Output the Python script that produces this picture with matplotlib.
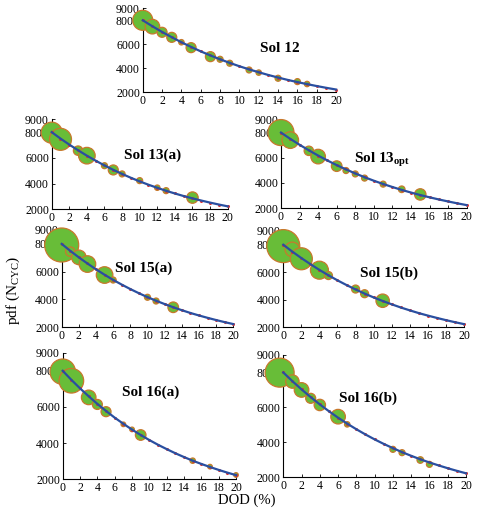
import matplotlib
matplotlib.use("Agg")
import matplotlib.pyplot as plt
import numpy as np

plt.rcParams['font.family'] = ['Liberation Serif', 'DejaVu Serif']
plt.rcParams['mathtext.fontset'] = 'custom'
plt.rcParams['mathtext.rm'] = 'Liberation Serif'
plt.rcParams['mathtext.bf'] = 'Liberation Serif:bold'

# fitted cycle-life curve, read at integer DOD
dod = list(range(21))
n_cyc = [8000, 7500, 7030, 6590, 6170, 5780, 5410, 5070, 4750, 4450, 4170,
         3910, 3670, 3440, 3230, 3030, 2850, 2680, 2520, 2370, 2230]

# bubbles: DOD, N_cyc, bubble radius (px)
sol12_x = [0, 1, 2, 3, 4, 5, 7, 8, 9, 11, 12, 14, 16, 17]
sol12_y = [8000, 7470, 7000, 6580, 6170, 5720, 4970, 4750, 4420, 3860, 3640, 3170, 2890, 2690]
sol12_r = [10, 7.3, 5, 5, 2.7, 5, 5, 3, 3, 3, 2.7, 3, 3, 2.7]

sol13a_x = [0, 1, 3, 4, 6, 7, 8, 10, 12, 13, 16]
sol13a_y = [7960, 7440, 6560, 6170, 5390, 5060, 4750, 4230, 3680, 3450, 2910]
sol13a_r = [10.5, 11, 4.7, 8.3, 3, 5, 3, 3, 2.7, 3, 5.7]

sol13o_x = [0, 1, 3, 4, 6, 7, 8, 9, 11, 13, 15]
sol13o_y = [8000, 7400, 6550, 6090, 5330, 4980, 4710, 4380, 3900, 3490, 3080]
sol13o_r = [13, 8.3, 4.7, 7.3, 5.3, 3, 3, 3, 3, 3.3, 5.7]

sol15a_x = [0, 1, 2, 3, 5, 6, 10, 11, 13]
sol15a_y = [7920, 7440, 7030, 6550, 5760, 5400, 4160, 3890, 3440]
sol15a_r = [17, 4.7, 7.3, 8.3, 8.3, 3, 3, 3, 5.3]

sol15b_x = [0, 1, 2, 4, 5, 8, 9, 11]
sol15b_y = [7900, 7660, 6980, 6150, 5760, 4780, 4440, 3930]
sol15b_r = [16.5, 7.3, 11, 9, 4, 4, 4, 6.7]

sol16a_x = [0, 1, 3, 4, 5, 7, 8, 9, 15, 17, 20]
sol16a_y = [7950, 7450, 6530, 6140, 5740, 5040, 4760, 4450, 3030, 2700, 2240]
sol16a_r = [12.7, 12.3, 7.3, 5, 5, 2.3, 2.3, 5.3, 2.7, 2.3, 2.3]

sol16b_x = [-0.4, 1, 2, 3, 4, 6, 7, 12, 13, 15, 16]
sol16b_y = [7990, 7480, 7000, 6520, 6140, 5470, 5030, 3600, 3410, 2990, 2740]
sol16b_r = [14.5, 6.7, 7.3, 5, 5.7, 7.3, 2.7, 3, 3, 3.3, 3]

panels = [
    ([0.298, 0.8208, 0.4036, 0.1631], sol12_x, sol12_y, sol12_r, 'Sol 12', 12.1, 5690),
    ([0.1079, 0.5936, 0.3674, 0.1748], sol13a_x, sol13a_y, sol13a_r, 'Sol 13(a)', 8.2, 6220),
    ([0.5866, 0.5961, 0.3877, 0.1709], sol13o_x, sol13o_y, sol13o_r,
     r'Sol 13$_{\mathbf{opt}}$', 7.9, 5820),
    ([0.1288, 0.3645, 0.3582, 0.1889], sol15a_x, sol15a_y, sol15a_r, 'Sol 15(a)', 6.2, 6245),
    ([0.5914, 0.3645, 0.3772, 0.1870], sol15b_x, sol15b_y, sol15b_r, 'Sol 15(b)', 8.5, 5950),
    ([0.1309, 0.0693, 0.3618, 0.2458], sol16a_x, sol16a_y, sol16a_r, 'Sol 16(a)', 6.8, 6840),
    ([0.5914, 0.0732, 0.3814, 0.2375], sol16b_x, sol16b_y, sol16b_r, 'Sol 16(b)', 6.1, 6525),
]

fig = plt.figure(figsize=(4.79, 5.15), dpi=100)

for rect, bx, by, br, name, tx, ty in panels:
    ax = fig.add_axes(rect)
    # radius px -> marker area in pt^2
    ax.scatter(bx, by, s=(2 * 0.72 * np.array(br)) ** 2, color='#68bd38',
               edgecolors='#c8782c', linewidths=0.9, zorder=3, clip_on=False)
    ax.plot(dod, n_cyc, ls='none', marker='o', ms=1.2, color='#e03030', zorder=4, clip_on=False)
    ax.plot(dod, n_cyc, color='#2a4fa0', lw=1.6, zorder=5, clip_on=False)
    ax.set_xlim(0, 20)
    ax.set_ylim(2000, 9000)
    ax.set_xticks(range(0, 21, 2))
    ax.set_yticks([2000, 4000, 6000, 8000, 9000])
    ax.tick_params(direction='in', length=2, width=0.6, labelsize=8.5, pad=2)
    for sp in ['top', 'right']:
        ax.spines[sp].set_visible(False)
    for sp in ['left', 'bottom']:
        ax.spines[sp].set_linewidth(0.8)
    ax.patch.set_alpha(0)
    ax.text(tx, ty, name, fontsize=11, fontweight='bold', ha='left', va='center', zorder=6)

fig.text(0.028, 0.437, r'pdf (N$_{\rm CYC}$)', rotation=90, fontsize=11, ha='center', va='center')
fig.text(0.515, 0.028, 'DOD (%)', fontsize=10.5, ha='center', va='center')

fig.savefig('out.png', dpi=100)
